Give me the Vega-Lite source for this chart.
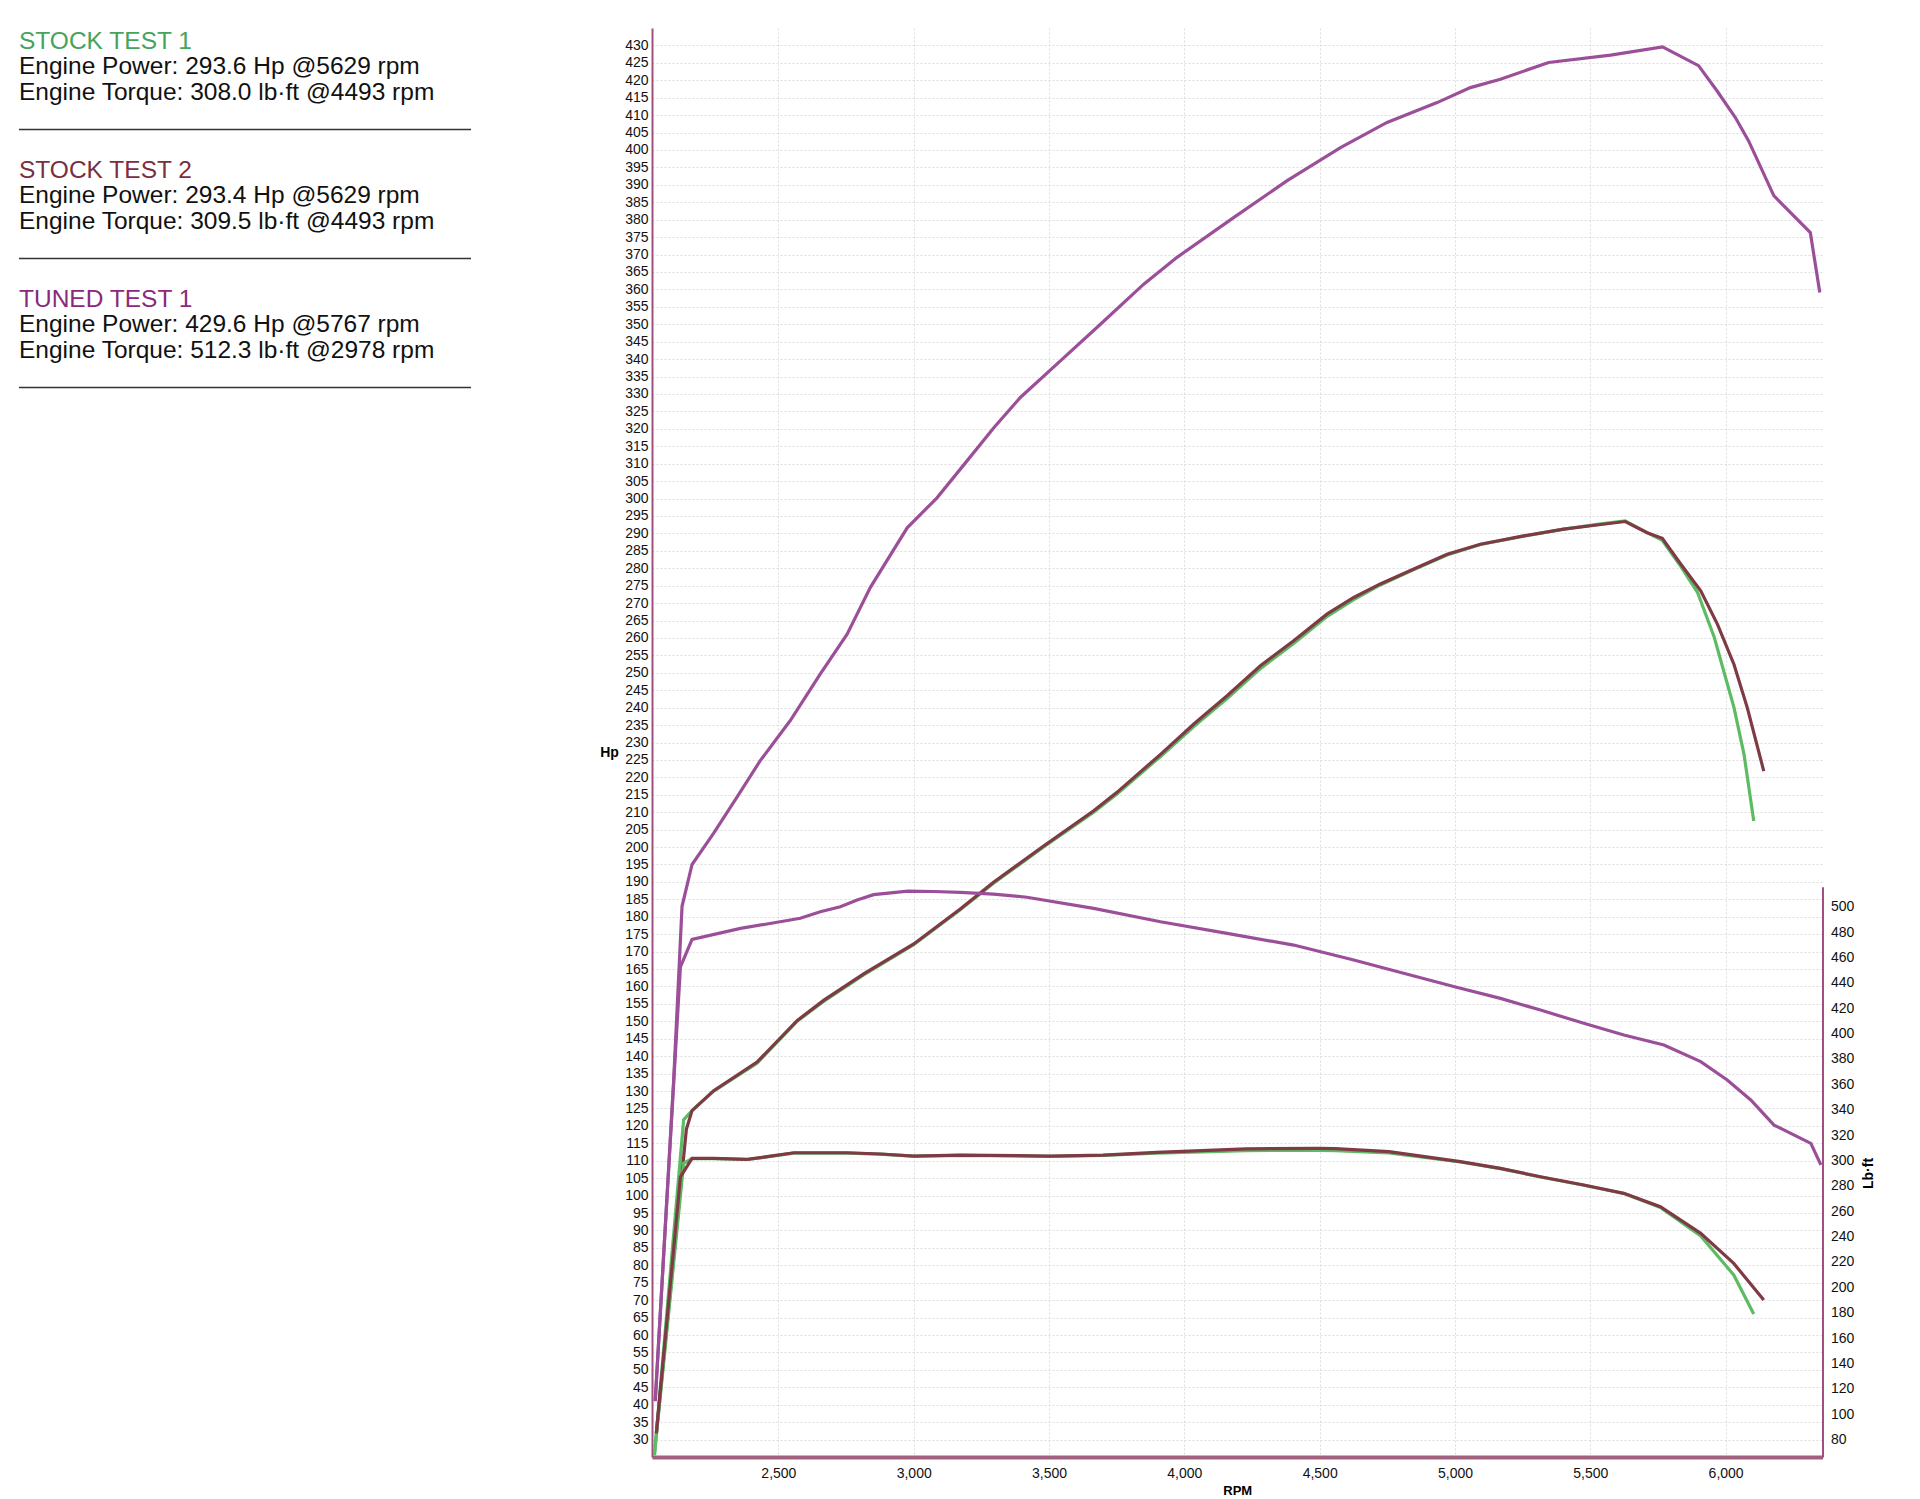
{
  "$schema": "https://vega.github.io/schema/vega-lite/v6.json",
  "background": "white",
  "padding": {"left": 18, "top": 28, "right": 0, "bottom": 0},
  "bounds": "flush",
  "spacing": 181,
  "config": {"view": {"stroke": null}, "font": "Liberation Sans"},
  "datasets": {
    "legend": [
      {"line": 0, "text": "STOCK TEST 1", "test": "STOCK TEST 1", "kind": "title"},
      {"line": 1, "text": "Engine Power: 293.6 Hp @5629 rpm", "test": "STOCK TEST 1", "kind": "detail"},
      {"line": 2, "text": "Engine Torque: 308.0 lb·ft @4493 rpm", "test": "STOCK TEST 1", "kind": "detail"},
      {"line": 5, "text": "STOCK TEST 2", "test": "STOCK TEST 2", "kind": "title"},
      {"line": 6, "text": "Engine Power: 293.4 Hp @5629 rpm", "test": "STOCK TEST 2", "kind": "detail"},
      {"line": 7, "text": "Engine Torque: 309.5 lb·ft @4493 rpm", "test": "STOCK TEST 2", "kind": "detail"},
      {"line": 10, "text": "TUNED TEST 1", "test": "TUNED TEST 1", "kind": "title"},
      {"line": 11, "text": "Engine Power: 429.6 Hp @5767 rpm", "test": "TUNED TEST 1", "kind": "detail"},
      {"line": 12, "text": "Engine Torque: 512.3 lb·ft @2978 rpm", "test": "TUNED TEST 1", "kind": "detail"}
    ],
    "rules": [{"line": 3.4}, {"line": 8.4}, {"line": 13.4}],
    "power": [
      {"test": "STOCK TEST 1", "rpm": 2042, "hp": 25.5},
      {"test": "STOCK TEST 1", "rpm": 2150, "hp": 121.8},
      {"test": "STOCK TEST 1", "rpm": 2181, "hp": 124.4},
      {"test": "STOCK TEST 1", "rpm": 2261, "hp": 130},
      {"test": "STOCK TEST 1", "rpm": 2421, "hp": 138},
      {"test": "STOCK TEST 1", "rpm": 2569, "hp": 150},
      {"test": "STOCK TEST 1", "rpm": 2667, "hp": 155.7},
      {"test": "STOCK TEST 1", "rpm": 2815, "hp": 163.3},
      {"test": "STOCK TEST 1", "rpm": 3000, "hp": 172},
      {"test": "STOCK TEST 1", "rpm": 3172, "hp": 182},
      {"test": "STOCK TEST 1", "rpm": 3295, "hp": 189.6},
      {"test": "STOCK TEST 1", "rpm": 3480, "hp": 200},
      {"test": "STOCK TEST 1", "rpm": 3665, "hp": 210},
      {"test": "STOCK TEST 1", "rpm": 3751, "hp": 215.2},
      {"test": "STOCK TEST 1", "rpm": 3912, "hp": 226},
      {"test": "STOCK TEST 1", "rpm": 4035, "hp": 234.6},
      {"test": "STOCK TEST 1", "rpm": 4158, "hp": 242.6},
      {"test": "STOCK TEST 1", "rpm": 4281, "hp": 251.2},
      {"test": "STOCK TEST 1", "rpm": 4404, "hp": 258.4},
      {"test": "STOCK TEST 1", "rpm": 4528, "hp": 266.2},
      {"test": "STOCK TEST 1", "rpm": 4626, "hp": 271},
      {"test": "STOCK TEST 1", "rpm": 4724, "hp": 275.2},
      {"test": "STOCK TEST 1", "rpm": 4848, "hp": 279.6},
      {"test": "STOCK TEST 1", "rpm": 4971, "hp": 283.8},
      {"test": "STOCK TEST 1", "rpm": 5094, "hp": 286.8},
      {"test": "STOCK TEST 1", "rpm": 5254, "hp": 289.2},
      {"test": "STOCK TEST 1", "rpm": 5402, "hp": 291.2},
      {"test": "STOCK TEST 1", "rpm": 5525, "hp": 292.6},
      {"test": "STOCK TEST 1", "rpm": 5629, "hp": 293.6},
      {"test": "STOCK TEST 1", "rpm": 5710, "hp": 290.2},
      {"test": "STOCK TEST 1", "rpm": 5766, "hp": 288},
      {"test": "STOCK TEST 1", "rpm": 5830, "hp": 281},
      {"test": "STOCK TEST 1", "rpm": 5896, "hp": 273.1},
      {"test": "STOCK TEST 1", "rpm": 5958, "hp": 260.2},
      {"test": "STOCK TEST 1", "rpm": 6031, "hp": 240},
      {"test": "STOCK TEST 1", "rpm": 6068, "hp": 226.6},
      {"test": "STOCK TEST 1", "rpm": 6104, "hp": 207.5},
      {"test": "STOCK TEST 2", "rpm": 2049, "hp": 31.8},
      {"test": "STOCK TEST 2", "rpm": 2160, "hp": 119},
      {"test": "STOCK TEST 2", "rpm": 2181, "hp": 124.4},
      {"test": "STOCK TEST 2", "rpm": 2261, "hp": 130.1},
      {"test": "STOCK TEST 2", "rpm": 2421, "hp": 138.3},
      {"test": "STOCK TEST 2", "rpm": 2569, "hp": 150.2},
      {"test": "STOCK TEST 2", "rpm": 2667, "hp": 156},
      {"test": "STOCK TEST 2", "rpm": 2815, "hp": 163.6},
      {"test": "STOCK TEST 2", "rpm": 3000, "hp": 172.2},
      {"test": "STOCK TEST 2", "rpm": 3172, "hp": 182.2},
      {"test": "STOCK TEST 2", "rpm": 3295, "hp": 189.9},
      {"test": "STOCK TEST 2", "rpm": 3480, "hp": 200.3},
      {"test": "STOCK TEST 2", "rpm": 3665, "hp": 210.4},
      {"test": "STOCK TEST 2", "rpm": 3751, "hp": 215.7},
      {"test": "STOCK TEST 2", "rpm": 3912, "hp": 226.6},
      {"test": "STOCK TEST 2", "rpm": 4035, "hp": 235.3},
      {"test": "STOCK TEST 2", "rpm": 4158, "hp": 243.4},
      {"test": "STOCK TEST 2", "rpm": 4281, "hp": 252},
      {"test": "STOCK TEST 2", "rpm": 4404, "hp": 259.2},
      {"test": "STOCK TEST 2", "rpm": 4528, "hp": 266.9},
      {"test": "STOCK TEST 2", "rpm": 4626, "hp": 271.6},
      {"test": "STOCK TEST 2", "rpm": 4724, "hp": 275.5},
      {"test": "STOCK TEST 2", "rpm": 4848, "hp": 279.8},
      {"test": "STOCK TEST 2", "rpm": 4971, "hp": 284},
      {"test": "STOCK TEST 2", "rpm": 5094, "hp": 286.9},
      {"test": "STOCK TEST 2", "rpm": 5254, "hp": 289.3},
      {"test": "STOCK TEST 2", "rpm": 5402, "hp": 291.2},
      {"test": "STOCK TEST 2", "rpm": 5525, "hp": 292.4},
      {"test": "STOCK TEST 2", "rpm": 5629, "hp": 293.4},
      {"test": "STOCK TEST 2", "rpm": 5710, "hp": 290.2},
      {"test": "STOCK TEST 2", "rpm": 5766, "hp": 288.6},
      {"test": "STOCK TEST 2", "rpm": 5834, "hp": 281.2},
      {"test": "STOCK TEST 2", "rpm": 5908, "hp": 273.5},
      {"test": "STOCK TEST 2", "rpm": 5970, "hp": 263.9},
      {"test": "STOCK TEST 2", "rpm": 6031, "hp": 252.4},
      {"test": "STOCK TEST 2", "rpm": 6080, "hp": 240},
      {"test": "STOCK TEST 2", "rpm": 6141, "hp": 221.8},
      {"test": "TUNED TEST 1", "rpm": 2045, "hp": 41},
      {"test": "TUNED TEST 1", "rpm": 2113, "hp": 133},
      {"test": "TUNED TEST 1", "rpm": 2144, "hp": 183},
      {"test": "TUNED TEST 1", "rpm": 2181, "hp": 195},
      {"test": "TUNED TEST 1", "rpm": 2261, "hp": 204},
      {"test": "TUNED TEST 1", "rpm": 2347, "hp": 214.3},
      {"test": "TUNED TEST 1", "rpm": 2433, "hp": 224.8},
      {"test": "TUNED TEST 1", "rpm": 2544, "hp": 236.3},
      {"test": "TUNED TEST 1", "rpm": 2655, "hp": 249.7},
      {"test": "TUNED TEST 1", "rpm": 2754, "hp": 261.1},
      {"test": "TUNED TEST 1", "rpm": 2840, "hp": 274.5},
      {"test": "TUNED TEST 1", "rpm": 2976, "hp": 291.6},
      {"test": "TUNED TEST 1", "rpm": 3086, "hp": 300.2},
      {"test": "TUNED TEST 1", "rpm": 3197, "hp": 310.8},
      {"test": "TUNED TEST 1", "rpm": 3296, "hp": 320.3},
      {"test": "TUNED TEST 1", "rpm": 3394, "hp": 329},
      {"test": "TUNED TEST 1", "rpm": 3542, "hp": 339.5},
      {"test": "TUNED TEST 1", "rpm": 3690, "hp": 350},
      {"test": "TUNED TEST 1", "rpm": 3850, "hp": 361.5},
      {"test": "TUNED TEST 1", "rpm": 3973, "hp": 369.2},
      {"test": "TUNED TEST 1", "rpm": 4182, "hp": 380.6},
      {"test": "TUNED TEST 1", "rpm": 4380, "hp": 391.2},
      {"test": "TUNED TEST 1", "rpm": 4577, "hp": 400.7},
      {"test": "TUNED TEST 1", "rpm": 4749, "hp": 407.9},
      {"test": "TUNED TEST 1", "rpm": 4934, "hp": 413.6},
      {"test": "TUNED TEST 1", "rpm": 5057, "hp": 417.9},
      {"test": "TUNED TEST 1", "rpm": 5168, "hp": 420.3},
      {"test": "TUNED TEST 1", "rpm": 5346, "hp": 425.1},
      {"test": "TUNED TEST 1", "rpm": 5575, "hp": 427.2},
      {"test": "TUNED TEST 1", "rpm": 5767, "hp": 429.6},
      {"test": "TUNED TEST 1", "rpm": 5900, "hp": 424.2},
      {"test": "TUNED TEST 1", "rpm": 5968, "hp": 417},
      {"test": "TUNED TEST 1", "rpm": 6036, "hp": 409.3},
      {"test": "TUNED TEST 1", "rpm": 6085, "hp": 402.6},
      {"test": "TUNED TEST 1", "rpm": 6178, "hp": 386.9},
      {"test": "TUNED TEST 1", "rpm": 6313, "hp": 376.3},
      {"test": "TUNED TEST 1", "rpm": 6348, "hp": 359.1}
    ],
    "torque": [
      {"test": "STOCK TEST 1", "rpm": 2042, "lbft": 68},
      {"test": "STOCK TEST 1", "rpm": 2150, "lbft": 297.8},
      {"test": "STOCK TEST 1", "rpm": 2181, "lbft": 301.5},
      {"test": "STOCK TEST 1", "rpm": 2261, "lbft": 301.5},
      {"test": "STOCK TEST 1", "rpm": 2385, "lbft": 300.8},
      {"test": "STOCK TEST 1", "rpm": 2458, "lbft": 302.8},
      {"test": "STOCK TEST 1", "rpm": 2557, "lbft": 305.8},
      {"test": "STOCK TEST 1", "rpm": 2754, "lbft": 305.8},
      {"test": "STOCK TEST 1", "rpm": 2877, "lbft": 305},
      {"test": "STOCK TEST 1", "rpm": 3000, "lbft": 303.4},
      {"test": "STOCK TEST 1", "rpm": 3172, "lbft": 304},
      {"test": "STOCK TEST 1", "rpm": 3502, "lbft": 303.3},
      {"test": "STOCK TEST 1", "rpm": 3700, "lbft": 304},
      {"test": "STOCK TEST 1", "rpm": 3898, "lbft": 305.8},
      {"test": "STOCK TEST 1", "rpm": 4228, "lbft": 307.8},
      {"test": "STOCK TEST 1", "rpm": 4493, "lbft": 308},
      {"test": "STOCK TEST 1", "rpm": 4558, "lbft": 307.8},
      {"test": "STOCK TEST 1", "rpm": 4756, "lbft": 306},
      {"test": "STOCK TEST 1", "rpm": 5020, "lbft": 298.8},
      {"test": "STOCK TEST 1", "rpm": 5168, "lbft": 293.6},
      {"test": "STOCK TEST 1", "rpm": 5316, "lbft": 287},
      {"test": "STOCK TEST 1", "rpm": 5476, "lbft": 280.5},
      {"test": "STOCK TEST 1", "rpm": 5624, "lbft": 274},
      {"test": "STOCK TEST 1", "rpm": 5759, "lbft": 263},
      {"test": "STOCK TEST 1", "rpm": 5908, "lbft": 240.5},
      {"test": "STOCK TEST 1", "rpm": 6030, "lbft": 209.8},
      {"test": "STOCK TEST 1", "rpm": 6104, "lbft": 179},
      {"test": "STOCK TEST 2", "rpm": 2049, "lbft": 85},
      {"test": "STOCK TEST 2", "rpm": 2138, "lbft": 287},
      {"test": "STOCK TEST 2", "rpm": 2181, "lbft": 301.7},
      {"test": "STOCK TEST 2", "rpm": 2261, "lbft": 301.7},
      {"test": "STOCK TEST 2", "rpm": 2385, "lbft": 300.9},
      {"test": "STOCK TEST 2", "rpm": 2458, "lbft": 303},
      {"test": "STOCK TEST 2", "rpm": 2557, "lbft": 306.1},
      {"test": "STOCK TEST 2", "rpm": 2754, "lbft": 306.1},
      {"test": "STOCK TEST 2", "rpm": 2877, "lbft": 305.1},
      {"test": "STOCK TEST 2", "rpm": 3000, "lbft": 303.5},
      {"test": "STOCK TEST 2", "rpm": 3172, "lbft": 304.3},
      {"test": "STOCK TEST 2", "rpm": 3502, "lbft": 303.5},
      {"test": "STOCK TEST 2", "rpm": 3700, "lbft": 304.3},
      {"test": "STOCK TEST 2", "rpm": 3898, "lbft": 306.4},
      {"test": "STOCK TEST 2", "rpm": 4228, "lbft": 309.2},
      {"test": "STOCK TEST 2", "rpm": 4493, "lbft": 309.5},
      {"test": "STOCK TEST 2", "rpm": 4558, "lbft": 309.3},
      {"test": "STOCK TEST 2", "rpm": 4756, "lbft": 307},
      {"test": "STOCK TEST 2", "rpm": 5020, "lbft": 299.1},
      {"test": "STOCK TEST 2", "rpm": 5168, "lbft": 293.8},
      {"test": "STOCK TEST 2", "rpm": 5316, "lbft": 287.2},
      {"test": "STOCK TEST 2", "rpm": 5476, "lbft": 280.7},
      {"test": "STOCK TEST 2", "rpm": 5624, "lbft": 274.1},
      {"test": "STOCK TEST 2", "rpm": 5759, "lbft": 263.6},
      {"test": "STOCK TEST 2", "rpm": 5908, "lbft": 242.6},
      {"test": "STOCK TEST 2", "rpm": 6030, "lbft": 218.9},
      {"test": "STOCK TEST 2", "rpm": 6141, "lbft": 190},
      {"test": "TUNED TEST 1", "rpm": 2045, "lbft": 111},
      {"test": "TUNED TEST 1", "rpm": 2138, "lbft": 452.7},
      {"test": "TUNED TEST 1", "rpm": 2181, "lbft": 474.3},
      {"test": "TUNED TEST 1", "rpm": 2360, "lbft": 483},
      {"test": "TUNED TEST 1", "rpm": 2458, "lbft": 486.4},
      {"test": "TUNED TEST 1", "rpm": 2581, "lbft": 490.9},
      {"test": "TUNED TEST 1", "rpm": 2655, "lbft": 496},
      {"test": "TUNED TEST 1", "rpm": 2729, "lbft": 500},
      {"test": "TUNED TEST 1", "rpm": 2791, "lbft": 505.3},
      {"test": "TUNED TEST 1", "rpm": 2852, "lbft": 509.5},
      {"test": "TUNED TEST 1", "rpm": 2978, "lbft": 512.3},
      {"test": "TUNED TEST 1", "rpm": 3074, "lbft": 512},
      {"test": "TUNED TEST 1", "rpm": 3172, "lbft": 511.3},
      {"test": "TUNED TEST 1", "rpm": 3295, "lbft": 510},
      {"test": "TUNED TEST 1", "rpm": 3418, "lbft": 507.5},
      {"test": "TUNED TEST 1", "rpm": 3665, "lbft": 498.7},
      {"test": "TUNED TEST 1", "rpm": 3912, "lbft": 488.2},
      {"test": "TUNED TEST 1", "rpm": 4158, "lbft": 479},
      {"test": "TUNED TEST 1", "rpm": 4404, "lbft": 469.8},
      {"test": "TUNED TEST 1", "rpm": 4626, "lbft": 458},
      {"test": "TUNED TEST 1", "rpm": 4744, "lbft": 451.3},
      {"test": "TUNED TEST 1", "rpm": 5002, "lbft": 436.7},
      {"test": "TUNED TEST 1", "rpm": 5168, "lbft": 427.8},
      {"test": "TUNED TEST 1", "rpm": 5316, "lbft": 418.6},
      {"test": "TUNED TEST 1", "rpm": 5476, "lbft": 408.1},
      {"test": "TUNED TEST 1", "rpm": 5624, "lbft": 398.9},
      {"test": "TUNED TEST 1", "rpm": 5772, "lbft": 391},
      {"test": "TUNED TEST 1", "rpm": 5908, "lbft": 377.9},
      {"test": "TUNED TEST 1", "rpm": 6006, "lbft": 363.4},
      {"test": "TUNED TEST 1", "rpm": 6093, "lbft": 347.7},
      {"test": "TUNED TEST 1", "rpm": 6179, "lbft": 327.9},
      {"test": "TUNED TEST 1", "rpm": 6315, "lbft": 313.5},
      {"test": "TUNED TEST 1", "rpm": 6352, "lbft": 296.5}
    ]
  },
  "resolve": {"scale": {"color": "independent"}},
  "hconcat": [
    {
      "width": 452,
      "height": 1429,
      "layer": [
        {
          "data": {"name": "legend"},
          "transform": [{"filter": "datum.kind === 'title'"}],
          "mark": {"type": "text", "align": "left", "baseline": "middle", "fontSize": 24.5},
          "encoding": {
            "x": {"value": 0},
            "y": {"field": "line", "type": "quantitative", "scale": {"domain": [-0.53, 54.86], "reverse": true, "nice": false, "zero": false}, "axis": null},
            "text": {"field": "text"},
            "color": {"field": "test", "type": "nominal", "scale": {"domain": ["STOCK TEST 1", "STOCK TEST 2", "TUNED TEST 1"], "range": ["#45a35c", "#7b2e3e", "#8b2a7c"]}, "legend": null}
          }
        },
        {
          "data": {"name": "legend"},
          "transform": [{"filter": "datum.kind === 'detail'"}],
          "mark": {"type": "text", "align": "left", "baseline": "middle", "fontSize": 24.5, "color": "#111111"},
          "encoding": {
            "x": {"value": 0},
            "y": {"field": "line", "type": "quantitative"},
            "text": {"field": "text"}
          }
        },
        {
          "data": {"name": "rules"},
          "mark": {"type": "rule", "color": "#333333", "strokeWidth": 1.5},
          "encoding": {
            "y": {"field": "line", "type": "quantitative"}
          }
        }
      ]
    },
    {
      "width": 1170.5,
      "height": 1429,
      "layer": [
        {
          "data": {"name": "power"},
          "mark": {"type": "line", "strokeWidth": 3.2},
          "encoding": {
            "x": {
              "field": "rpm", "type": "quantitative",
              "scale": {"domain": [2033, 6358], "nice": false, "zero": false},
              "axis": {
                "values": [2500, 3000, 3500, 4000, 4500, 5000, 5500, 6000],
                "format": ",.0f", "title": "RPM", "titleFontWeight": "bold", "titleFontSize": 13, "titlePadding": 4,
                "labelFontSize": 14, "labelPadding": 9, "labelColor": "#111111", "ticks": false,
                "domainColor": "#a2607f", "domainWidth": 4,
                "grid": true, "gridColor": "#dddddd", "gridDash": [2, 2]
              }
            },
            "y": {
              "field": "hp", "type": "quantitative",
              "scale": {"domain": [25, 435], "nice": false, "zero": false},
              "axis": {
                "orient": "left",
                "values": [30,35,40,45,50,55,60,65,70,75,80,85,90,95,100,105,110,115,120,125,130,135,140,145,150,155,160,165,170,175,180,185,190,195,200,205,210,215,220,225,230,235,240,245,250,255,260,265,270,275,280,285,290,295,300,305,310,315,320,325,330,335,340,345,350,355,360,365,370,375,380,385,390,395,400,405,410,415,420,425,430],
                "labelOverlap": false, "labelFontSize": 14, "labelPadding": 4, "labelColor": "#111111", "ticks": false,
                "title": "Hp", "titleAngle": 0, "titleX": -43, "titleY": 724, "titleAlign": "center", "titleBaseline": "middle",
                "titleFontWeight": "bold", "titleFontSize": 14,
                "domainColor": "#a0507f", "domainWidth": 2,
                "grid": true, "gridColor": "#dddddd", "gridDash": [2, 2]
              }
            },
            "color": {
              "field": "test", "type": "nominal",
              "scale": {"domain": ["STOCK TEST 1", "STOCK TEST 2", "TUNED TEST 1"], "range": ["#5dbb63", "#7e3a45", "#9c4f99"]},
              "legend": null
            }
          }
        },
        {
          "data": {"name": "torque"},
          "mark": {"type": "line", "strokeWidth": 3.2},
          "encoding": {
            "x": {"field": "rpm", "type": "quantitative"},
            "y": {
              "field": "lbft", "type": "quantitative",
              "scale": {"domain": [66.3, 515.8], "range": [1429, 858.7], "nice": false, "zero": false},
              "axis": {
                "orient": "right",
                "values": [80,100,120,140,160,180,200,220,240,260,280,300,320,340,360,380,400,420,440,460,480,500],
                "labelOverlap": false, "labelFontSize": 14, "labelPadding": 8, "labelColor": "#111111", "ticks": false,
                "title": "Lb·ft", "titleAngle": 270, "titleX": 46, "titleY": 1145, "titleAlign": "center", "titleBaseline": "middle",
                "titleFontWeight": "bold", "titleFontSize": 14,
                "domainColor": "#a0507f", "domainWidth": 2,
                "grid": false
              }
            },
            "color": {"field": "test", "type": "nominal", "legend": null}
          }
        }
      ],
      "resolve": {"scale": {"y": "independent"}}
    }
  ]
}
